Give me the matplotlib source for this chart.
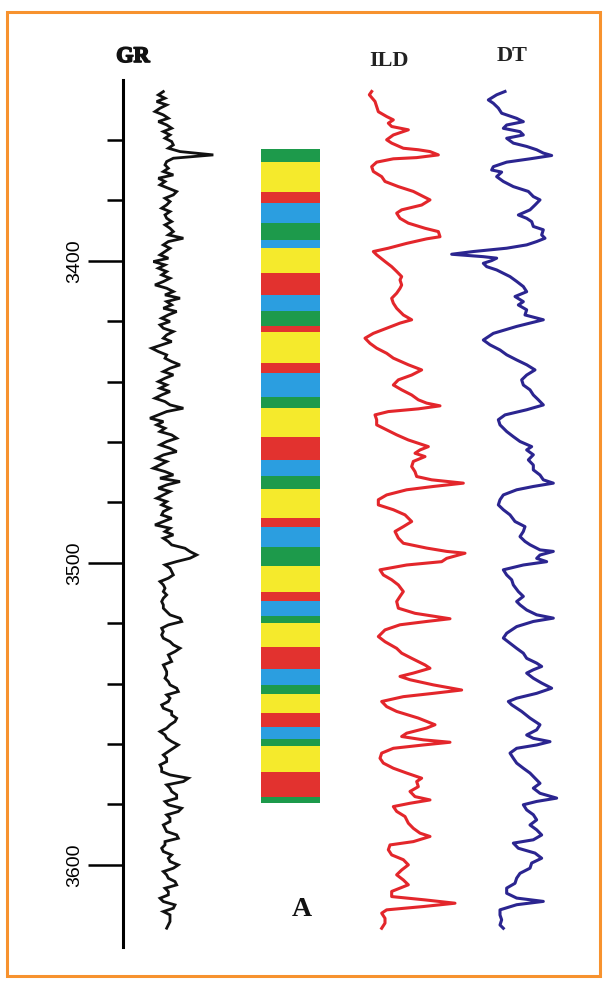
import numpy as np
import matplotlib
matplotlib.use("Agg")
import matplotlib.pyplot as plt
from matplotlib.patches import Rectangle
from matplotlib.ticker import FixedLocator
import matplotlib.patheffects as pe

# ---------------- data ----------------
depth_major_ticks = [3400, 3500, 3600]
depth_minor_ticks = [3360, 3380, 3420, 3440, 3460, 3480, 3520, 3540, 3560, 3580]
depth_top, depth_bottom = 3340.1, 3627.2

# GR log, regular depth sampling
gr_top_depth = 3343.93
gr_step = 1.1038
gr_values = [
    70, 55, 75, 50, 80, 60, 45, 70, 85, 55, 80, 95, 70, 90, 75, 95, 100, 85, 120, 220,
    100, 80, 75, 85, 70, 100, 55, 75, 60, 85, 110, 100, 75, 90, 80, 65, 90, 75, 80, 95,
    75, 90, 100, 85, 130, 85, 70, 90, 75, 60, 85, 40, 75, 55, 80, 65, 90, 70, 45, 80,
    100, 75, 120, 80, 95, 70, 110, 85, 65, 90, 60, 70, 100, 80, 70, 95, 65, 35, 55, 80,
    75, 95, 120, 90, 70, 100, 75, 55, 80, 60, 90, 65, 45, 75, 90, 130, 80, 55, 30, 70,
    50, 75, 60, 95, 110, 80, 60, 90, 110, 70, 50, 80, 60, 40, 75, 100, 60, 120, 80, 55,
    90, 70, 50, 80, 65, 90, 70, 65,
    95, 70, 45, 90, 75, 100, 70, 85, 95, 135, 150, 170, 150, 110, 75, 90, 95, 100, 85, 60,
    70, 75, 70, 80, 70, 65, 70, 70, 80, 90, 120, 125, 85, 65, 70, 65, 70, 90, 100, 120,
    105, 85, 90, 95, 70, 75, 80, 80, 75, 85, 90, 110, 115, 80, 90, 85, 65, 70, 95, 95,
    110, 105, 90, 80, 60, 75, 80, 95, 115, 100, 85, 70, 80, 80, 60, 65, 65, 90, 145, 130,
    80, 90, 95, 110, 110, 75, 85, 125, 115, 80, 90, 90, 70, 75, 80, 110, 115, 75, 75, 65,
    70, 95, 85, 90, 115, 100, 70, 80, 85, 105, 110, 75, 85, 85, 60, 70, 105, 100, 70, 90,
    90, 90, 85, 80,
]

ild_depth = [
    3343.9, 3345.0, 3347.2, 3350.6, 3352.2, 3353.3, 3354.4, 3355.5, 3356.6, 3358.3,
    3359.9, 3361.0, 3362.7, 3363.2, 3363.8, 3364.9, 3365.8, 3366.2, 3367.3, 3368.8,
    3370.4, 3372.1, 3373.7, 3375.4, 3377.0, 3378.7, 3379.8, 3381.5, 3383.1, 3384.2,
    3385.9, 3387.5, 3389.2, 3390.3, 3392.0, 3392.7, 3394.2, 3395.8, 3396.9, 3398.0,
    3400.2, 3401.9, 3403.5, 3405.2, 3406.3, 3408.0, 3409.1, 3410.7, 3412.4, 3414.0,
    3415.7, 3417.9, 3419.5, 3420.6, 3422.3, 3424.0, 3425.6, 3427.3, 3428.9, 3430.6,
    3432.2, 3434.4, 3436.1, 3437.8, 3439.4, 3441.1, 3442.7, 3444.4, 3446.0, 3447.1,
    3448.0, 3449.0, 3449.9, 3451.0, 3452.6, 3454.3, 3455.4, 3457.6, 3459.3, 3460.4,
    3461.5, 3462.6, 3463.7, 3464.8, 3466.4, 3468.1, 3469.8, 3471.4, 3472.5, 3473.6,
    3474.7, 3475.8, 3477.5, 3479.1, 3480.8,
    3482.4, 3484.1, 3486.3, 3488.0, 3489.6, 3491.8, 3493.5, 3495.1, 3496.2, 3496.8,
    3498.5, 3499.6, 3500.7, 3502.3, 3504.0, 3505.6, 3507.3, 3509.5, 3511.1, 3512.8,
    3515.0, 3516.7, 3517.8, 3518.5, 3519.4, 3520.5, 3522.2, 3524.4, 3526.1, 3528.3,
    3529.9, 3531.6, 3533.8, 3534.9, 3536.5, 3537.6, 3538.7, 3540.4, 3542.1, 3543.2,
    3544.3, 3545.9, 3547.6, 3549.2, 3551.4, 3553.6, 3554.7, 3556.4, 3557.5, 3558.6,
    3559.4, 3560.3, 3561.4, 3563.0, 3564.7, 3566.3, 3568.0, 3569.6, 3571.3, 3572.4,
    3574.1, 3575.7, 3577.4, 3578.5, 3579.6, 3580.7, 3582.3, 3584.0, 3586.2, 3587.9,
    3589.5, 3590.6, 3592.3, 3593.4, 3595.0, 3596.7, 3598.3, 3600.0, 3601.7, 3603.3,
    3605.0, 3606.6, 3608.8, 3610.5, 3611.6, 3612.7, 3613.8, 3614.9, 3616.0, 3617.7,
    3619.3, 3621.0,
]
ild_values = [
    35, 28, 45, 55, 80, 100, 85, 95, 145, 100,
    80, 95, 130, 175, 210, 235, 170, 100, 50, 35,
    40, 65, 75, 115, 160, 190, 210, 185, 125, 110,
    120, 145, 195, 235, 240, 200, 140, 85, 40, 50,
    75, 95, 110, 125, 120, 125, 120, 110, 95, 100,
    110, 130, 155, 120, 80, 40, 15, 30, 50, 80,
    100, 145, 185, 155, 115, 100, 125, 155, 175, 200,
    240, 175, 85, 45, 50, 50, 70, 110, 145, 175,
    205, 180, 165, 195, 160, 155, 165, 170, 215, 310,
    220, 140, 80, 55, 55,
    100, 135, 155, 130, 105, 115, 130, 200, 260, 315,
    260, 245, 140, 60, 70, 95, 115, 130, 120, 110,
    115, 165, 230, 270, 200, 120, 75, 55, 75, 110,
    125, 155, 195, 210, 160, 120, 150, 220, 305, 220,
    130, 65, 80, 110, 175, 225, 200, 140, 125, 190,
    270, 190, 100, 65, 60, 70, 100, 140, 185, 170,
    175, 150, 165, 210, 150, 100, 110, 135, 145, 160,
    180, 210, 160, 90, 85, 95, 130, 145, 125, 110,
    130, 145, 95, 95, 195, 285, 190, 80, 65, 75,
    75, 65,
]

dt_depth = [
    3343.9, 3345.0, 3346.7, 3347.8, 3349.4, 3351.1, 3352.8, 3353.9, 3355.0, 3356.1,
    3357.2, 3358.3, 3359.4, 3361.0, 3362.1, 3363.2, 3364.3, 3365.1, 3366.2, 3367.3,
    3368.8, 3369.9, 3370.6, 3372.1, 3373.7, 3375.4, 3377.0, 3378.7, 3379.8, 3381.5,
    3383.1, 3384.8, 3385.9, 3387.0, 3388.6, 3389.7, 3391.4, 3392.5, 3393.6, 3394.7,
    3395.8, 3396.9, 3397.8, 3398.6, 3399.1, 3399.9, 3400.8, 3401.9, 3403.0, 3404.1,
    3405.2, 3406.8, 3408.5, 3410.2, 3411.8, 3413.5, 3414.6, 3416.2, 3417.9, 3419.5,
    3420.6, 3421.7, 3424.0, 3426.2, 3427.8, 3429.5, 3431.1, 3432.8, 3434.4, 3436.1,
    3437.8, 3439.4, 3441.1, 3442.7, 3444.4, 3446.0, 3447.7, 3449.3, 3451.0, 3452.6,
    3454.3, 3456.5, 3458.2, 3459.8, 3461.5, 3462.6, 3464.2, 3465.9, 3467.6, 3469.2,
    3470.9, 3472.5, 3473.6, 3474.7, 3475.8, 3477.5, 3479.1,
    3480.8, 3482.4, 3484.1, 3486.3, 3488.0, 3489.6, 3491.3, 3492.9, 3494.0, 3495.7,
    3496.2, 3497.4, 3498.5, 3499.6, 3500.7, 3502.3, 3504.0, 3505.6, 3507.3, 3509.5,
    3511.1, 3512.8, 3513.9, 3515.6, 3517.2, 3518.3, 3519.4, 3521.1, 3523.3, 3524.9,
    3526.6, 3528.3, 3529.9, 3531.6, 3533.2, 3534.3, 3535.4, 3536.5, 3538.2, 3539.8,
    3541.5, 3543.2, 3544.8, 3545.9, 3547.0, 3549.2, 3551.4, 3553.6, 3555.3, 3557.0,
    3558.1, 3559.2, 3560.3, 3561.4, 3563.0, 3564.7, 3566.3, 3568.0, 3569.6, 3571.3,
    3573.0, 3574.6, 3576.3, 3577.9, 3579.0, 3580.1, 3581.8, 3583.4, 3585.1, 3586.8,
    3588.4, 3590.1, 3591.7, 3592.8, 3594.5, 3596.1, 3597.8, 3599.4, 3601.1, 3602.8,
    3604.4, 3606.1, 3607.7, 3609.4, 3611.0, 3612.1, 3613.2, 3614.9, 3616.6, 3618.2,
    3619.9, 3621.0,
]
dt_values = [
    435, 410, 385, 400, 415, 425, 470, 490, 440, 430,
    480, 490, 440, 460, 500, 530, 550, 575, 510, 440,
    400, 395, 425, 410, 430, 460, 505, 520, 540, 525,
    510, 475, 500, 515, 520, 550, 545, 555, 530, 500,
    440, 340, 275, 370, 410, 395, 370, 380, 410, 430,
    450, 470, 490, 500, 465, 490, 475, 500, 495, 550,
    510, 470, 400, 370, 390, 420, 440, 470, 500, 525,
    500, 485, 490, 510, 520, 535, 550, 500, 435, 415,
    420, 440, 460, 480, 515, 500, 520, 505, 520, 520,
    540, 550, 580, 520, 470, 430, 420,
    415, 430, 450, 465, 495, 490, 480, 495, 510, 540,
    580, 540, 530, 560, 490, 430, 440, 455, 460, 475,
    490, 470, 480, 500, 530, 580, 520, 470, 440, 430,
    450, 470, 490, 500, 530, 545, 520, 500, 520, 545,
    575, 530, 470, 445, 455, 485, 510, 540, 530, 500,
    520, 570, 530, 470, 450, 460, 470, 490, 510, 525,
    540, 520, 540, 590, 530, 490, 500, 520, 530, 510,
    530, 545, 520, 460, 475, 525, 545, 515, 510, 480,
    470, 465, 440, 440, 470, 550, 470, 420, 420, 425,
    420, 430,
]

# lithology column: layer boundaries (m) and lithology classes
lith_bounds = [
    3363.0, 3367.1, 3377.1, 3380.9, 3387.3, 3393.0, 3395.8, 3403.9, 3411.3, 3416.5,
    3421.4, 3423.7, 3433.7, 3437.2, 3445.1, 3448.8, 3458.4, 3465.9, 3471.2, 3475.5,
    3485.2, 3488.2, 3494.6, 3501.0, 3509.5, 3512.6, 3517.5, 3519.8, 3527.7, 3535.2,
    3540.5, 3543.4, 3549.8, 3554.4, 3558.3, 3560.6, 3569.1, 3577.6, 3579.6,
]
lith_classes = [
    "G", "Y", "R", "B", "G", "B", "Y", "R", "B", "G",
    "R", "Y", "R", "B", "G", "Y", "R", "B", "G", "Y",
    "R", "B", "G", "Y", "R", "B", "G", "Y", "R", "B",
    "G", "Y", "R", "B", "G", "Y", "R", "G",
]
lith_colors = {"G": "#1d9a4b", "Y": "#f5ea2c", "R": "#e2322f", "B": "#2b9ee0"}

track_titles = ["GR", "ILD", "DT"]
panel_label = "A"

# ---------------- figure ----------------
W, H = 604, 982
fig = plt.figure(figsize=(W / 100, H / 100), dpi=100)
fig.patch.set_facecolor("white")

def px_axes(x0, x1, y0, y1):
    return fig.add_axes([x0 / W, 1 - y1 / H, (x1 - x0) / W, (y1 - y0) / H])

def px2fig(x, y):
    return x / W, 1 - y / H

# orange frame
frame = Rectangle(px2fig(7, 976), (600 - 7) / W, (976 - 12) / H, transform=fig.transFigure,
                  fill=False, edgecolor="#f7922e", linewidth=2.2, zorder=0)
fig.patches.append(frame)

Y0, Y1 = 80, 947

# depth axis
axd = px_axes(123, 124, Y0, Y1)
axd.set_ylim(depth_bottom, depth_top)
axd.set_xlim(0, 1)
for s in ["top", "right", "bottom"]:
    axd.spines[s].set_visible(False)
axd.spines["left"].set_linewidth(2.2)
axd.patch.set_alpha(0)
axd.set_xticks([])
axd.yaxis.set_major_locator(FixedLocator(depth_major_ticks))
axd.yaxis.set_minor_locator(FixedLocator(depth_minor_ticks))
axd.tick_params(axis="y", which="major", length=25, width=1.8, pad=3.5,
                labelsize=14, labelrotation=90)
axd.tick_params(axis="y", which="minor", length=11.5, width=1.8)
for lab in axd.get_yticklabels():
    lab.set_fontfamily("Liberation Sans")
    lab.set_verticalalignment("center")

def track(x0, x1, xlim):
    ax = px_axes(x0, x1, Y0, Y1)
    ax.set_ylim(depth_bottom, depth_top)
    ax.set_xlim(*xlim)
    ax.axis("off")
    return ax

# GR
axg = track(140, 230, (0, 270))
gr_depth = gr_top_depth + gr_step * np.arange(len(gr_values))
axg.plot(gr_values, gr_depth, color="#111111", lw=2.0, solid_joinstyle="miter")

# lithology
axl = track(261, 320, (0, 1))
tops = np.array(lith_bounds[:-1])
thick = np.diff(lith_bounds)
axl.barh(tops, 1, height=thick, left=0, align="edge",
         color=[lith_colors[c] for c in lith_classes], edgecolor="none")

# ILD
axi = track(360, 470, (0, 330))
axi.plot(ild_values, ild_depth, color="#e3262b", lw=2.2)

# DT
axt = track(440, 560, (240, 600))
axt.plot(dt_values, dt_depth, color="#2b2590", lw=2.2)

# titles
gr_t = fig.text(*px2fig(133, 57), track_titles[0], ha="center", va="center",
                fontsize=16, fontweight="bold", family="Liberation Serif", color="#111111")
gr_t.set_path_effects([pe.withStroke(linewidth=1.2, foreground="#111111")])
fig.text(*px2fig(389, 61), track_titles[1], ha="center", va="center",
         fontsize=16, fontweight="bold", family="Liberation Serif", color="#222222")
fig.text(*px2fig(512, 56), track_titles[2], ha="center", va="center",
         fontsize=16, fontweight="bold", family="Liberation Serif", color="#222222")
fig.text(*px2fig(302, 910), panel_label, ha="center", va="center",
         fontsize=20, fontweight="bold", family="Liberation Serif", color="#111111")

fig.savefig("out.png", dpi=100)
